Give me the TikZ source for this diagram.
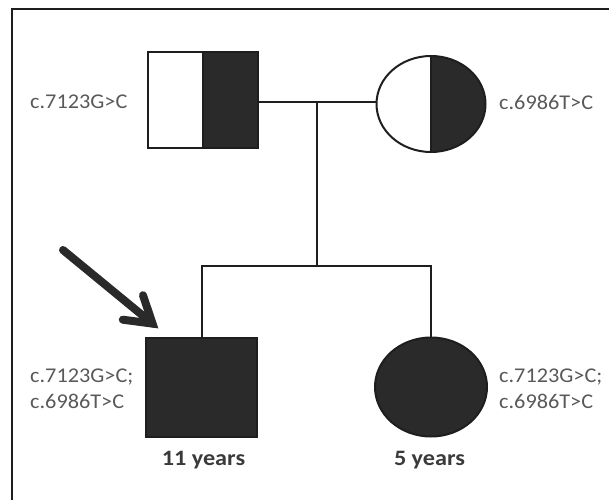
\documentclass[tikz,border=0pt]{standalone}
\usepackage{fontspec}
\setmainfont{Carlito}
\usetikzlibrary{shapes.geometric}
\definecolor{inkc}{HTML}{1E1E1E}
\definecolor{fillc}{HTML}{2A2A2A}
\definecolor{labc}{HTML}{595959}
\definecolor{agec}{HTML}{3A3A3A}
\tikzset{
  pline/.style={draw=inkc, line width=2pt},
  lab/.style={text=labc, font=\fontsize{21}{26}\selectfont, xscale=1.06, inner sep=0pt, align=left},
  age/.style={text=agec, font=\bfseries\fontsize{22}{26}\selectfont, xscale=1.1, inner sep=0pt},
  arrowline/.style={draw=fillc, line width=8pt, line cap=round}
}
\begin{document}
\begin{tikzpicture}[x=1pt,y=1pt]
\useasboundingbox (0,0) rectangle (609,499);
% frame
\draw[draw=inkc, line width=1.5pt] (12,-2) -- (12,490) -- (611,490);
% nodes
\node[rectangle, minimum width=110pt, minimum height=96pt, inner sep=0pt] (father) at (203,399) {};
\node[ellipse, minimum width=109pt, minimum height=96pt, inner sep=0pt] (mother) at (431,395) {};
\node[rectangle, pline, fill=fillc, minimum width=111pt, minimum height=99pt, inner sep=0pt] (son) at (201.5,111.5) {};
\node[ellipse, pline, fill=fillc, minimum width=112pt, minimum height=99pt, inner sep=0pt] (dau) at (431,112) {};
% father half fill
\fill[fillc] (father.north) rectangle (father.south east);
\draw[pline] (father.north west) rectangle (father.south east);
\draw[pline] (father.north) -- (father.south);
% mother half fill
\fill[fillc] (mother.north) arc[start angle=90, end angle=-90, x radius=54.5pt, y radius=48pt] -- cycle;
\draw[pline] (mother.center) ellipse [x radius=54.5pt, y radius=48pt];
\draw[pline] (mother.north) -- (mother.south);
% connectors
\coordinate (mid) at (317,397);
\coordinate (sib) at (317,233);
\draw[pline] (father.east |- mid) -- (mother.west |- mid);
\draw[pline] (mid) -- (sib);
\draw[pline] (son.north) |- (sib) -| (dau.north);
% arrow
\coordinate (atail) at (63,249);
\coordinate (avert) at (152.5,175.4);
\coordinate (abarbA) at (143,203.8);
\coordinate (abarbB) at (122.8,179.3);
\draw[arrowline] (atail) -- (avert);
\draw[arrowline, line join=miter] (abarbA) -- (avert) -- (abarbB);
% labels
\node[lab, anchor=west] (flab) at (30,397) {c.7123G>C};
\node[lab, anchor=west] (mlab) at (499,397) {c.6986T>C};
\node[lab, anchor=west] (slab) at (30,110) {c.7123G>C;\\c.6986T>C};
\node[lab, anchor=west] (dlab) at (499,110) {c.7123G>C;\\c.6986T>C};
\node[age] (sage) at (203.5,39) {11 years};
\node[age] (dage) at (429.5,39) {5 years};
\end{tikzpicture}
\end{document}
